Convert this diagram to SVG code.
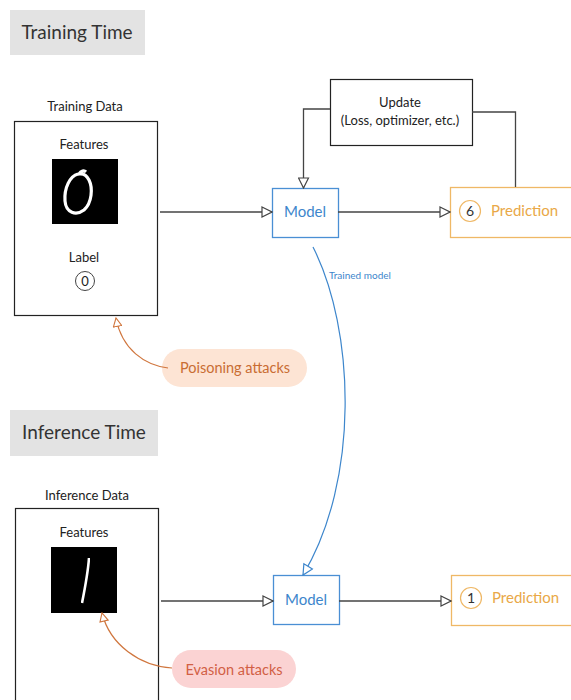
<svg xmlns="http://www.w3.org/2000/svg" width="571" height="700" viewBox="0 0 571 700">
<style>
text{font-family:Lato,"Liberation Sans",sans-serif;}
.hdr{fill:#e3e3e3;}
.hdrt{font-size:19px;fill:#333;}
.box{fill:#fff;stroke:#222;stroke-width:1.2;}
.lbl{font-size:13px;fill:#222;text-anchor:middle;}
.model{fill:#fff;stroke:#4a8fd4;stroke-width:1.3;}
.modelt{font-size:15px;fill:#3d86cc;text-anchor:middle;}
.pred{fill:#fff;stroke:#efb866;stroke-width:1.3;}
.predt{font-size:15px;fill:#e9a847;}
.conn{fill:none;stroke:#444;stroke-width:1.3;}
</style>
<defs>
<marker id="ah" viewBox="0 0 12 12" refX="11" refY="6" markerWidth="12" markerHeight="12" markerUnits="userSpaceOnUse" orient="auto">
<path d="M1,1 L11,6 L1,11 Z" fill="#fff" stroke="#444" stroke-width="1.2"/>
</marker>
<marker id="ahb" viewBox="0 0 12 12" refX="11" refY="6" markerWidth="12" markerHeight="12" markerUnits="userSpaceOnUse" orient="auto">
<path d="M1,1 L11,6 L1,11 Z" fill="#fff" stroke="#3d86cc" stroke-width="1.2"/>
</marker>
<marker id="aho" viewBox="0 0 12 12" refX="11" refY="6" markerWidth="10" markerHeight="10" markerUnits="userSpaceOnUse" orient="auto">
<path d="M1,1 L11,6 L1,11 Z" fill="#fff" stroke="#d0763e" stroke-width="1.3"/>
</marker>
<filter id="blur"><feGaussianBlur stdDeviation="0.7"/></filter>
</defs>

<g id="training-time">
<rect class="hdr" x="10" y="10" width="135" height="45"/>
<text class="hdrt" x="77" y="39" text-anchor="middle">Training Time</text>
</g>

<g id="training-data">
<text class="lbl" x="85" y="111" font-size="13.5">Training Data</text>
<rect class="box" x="14.5" y="121.5" width="143" height="194"/>
<text class="lbl" x="84" y="149" font-size="14.5">Features</text>
<rect x="52" y="159" width="66" height="65" fill="#000"/>
<path d="M78,174 C70,176 64,188 65,201 C66,213 76,216 84,210 C92,203 93,188 89,180 C87,176 84,173 79,174 C81,171 84,170 86,172" fill="none" stroke="#fff" stroke-width="3.2" filter="url(#blur)"/>
<text class="lbl" x="84" y="262" font-size="14.5">Label</text>
<circle cx="85" cy="281" r="9.5" fill="#fff" stroke="#444" stroke-width="1"/>
<text class="lbl" x="85" y="286" font-size="13">0</text>
</g>

<g id="update">
<rect class="box" x="330.5" y="79.5" width="142" height="66"/>
<text class="lbl" x="400" y="107" font-size="15">Update</text>
<text class="lbl" x="400" y="125" font-size="10">(Loss, optimizer, etc.)</text>
</g>

<g id="model-train">
<rect class="model" x="272.5" y="188.5" width="66" height="49"/>
<text class="modelt" x="305" y="217">Model</text>
</g>

<g id="prediction-train">
<rect class="pred" x="450.5" y="187.5" width="130" height="50"/>
<circle cx="470" cy="211" r="10.5" fill="#fff" stroke="#efb866" stroke-width="1.2"/>
<text x="470" y="216" font-size="14" fill="#333" text-anchor="middle">6</text>
<text class="predt" x="491" y="216">Prediction</text>
</g>

<g id="poisoning">
<rect x="162" y="349" width="145" height="38" rx="19" fill="#fde4d4"/>
<text x="235" y="373" font-size="14.5" fill="#c96d33" text-anchor="middle">Poisoning attacks</text>
</g>

<g id="inference-time">
<rect class="hdr" x="10" y="410" width="148" height="46"/>
<text class="hdrt" x="84" y="439" text-anchor="middle">Inference Time</text>
</g>

<g id="inference-data">
<text class="lbl" x="87" y="500" font-size="13.5">Inference Data</text>
<rect class="box" x="15.5" y="508.5" width="143" height="200"/>
<text class="lbl" x="84" y="537" font-size="14.5">Features</text>
<rect x="51" y="547" width="66" height="66" fill="#000"/>
<path d="M89,558 C88,572 85,588 82,603" fill="none" stroke="#fff" stroke-width="2.6" filter="url(#blur)"/>
</g>

<g id="model-infer">
<rect class="model" x="273.5" y="575.5" width="66" height="49"/>
<text class="modelt" x="306" y="605">Model</text>
</g>

<g id="prediction-infer">
<rect class="pred" x="451.5" y="575.5" width="130" height="50"/>
<circle cx="471" cy="598" r="10.5" fill="#fff" stroke="#efb866" stroke-width="1.2"/>
<text x="471" y="603" font-size="14" fill="#333" text-anchor="middle">1</text>
<text class="predt" x="492" y="603">Prediction</text>
</g>

<g id="evasion">
<rect x="172" y="650" width="124" height="38" rx="19" fill="#fbd3d3"/>
<text x="234" y="675" font-size="14.5" fill="#d25f45" text-anchor="middle">Evasion attacks</text>
</g>

<g id="connectors">
<path class="conn" d="M160,212 H272" marker-end="url(#ah)"/>
<path class="conn" d="M338,212 H450" marker-end="url(#ah)"/>
<path class="conn" d="M330,109 H303.5 V188" marker-end="url(#ah)"/>
<path class="conn" d="M472,112 H515.5 V187"/>
<path class="conn" d="M161,601 H273" marker-end="url(#ah)"/>
<path class="conn" d="M339,601 H451" marker-end="url(#ah)"/>
<path d="M313,247 C355,330 360,480 303,575" fill="none" stroke="#3d86cc" stroke-width="1.2" marker-end="url(#ahb)"/>
<text x="329" y="279" font-size="10" fill="#3d86cc">Trained model</text>
<path d="M168,368 C145,365 122,350 116,318" fill="none" stroke="#d0763e" stroke-width="1.2" marker-end="url(#aho)"/>
<path d="M172,668 C140,666 110,645 102,613" fill="none" stroke="#d0763e" stroke-width="1.2" marker-end="url(#aho)"/>
</g>
</svg>
